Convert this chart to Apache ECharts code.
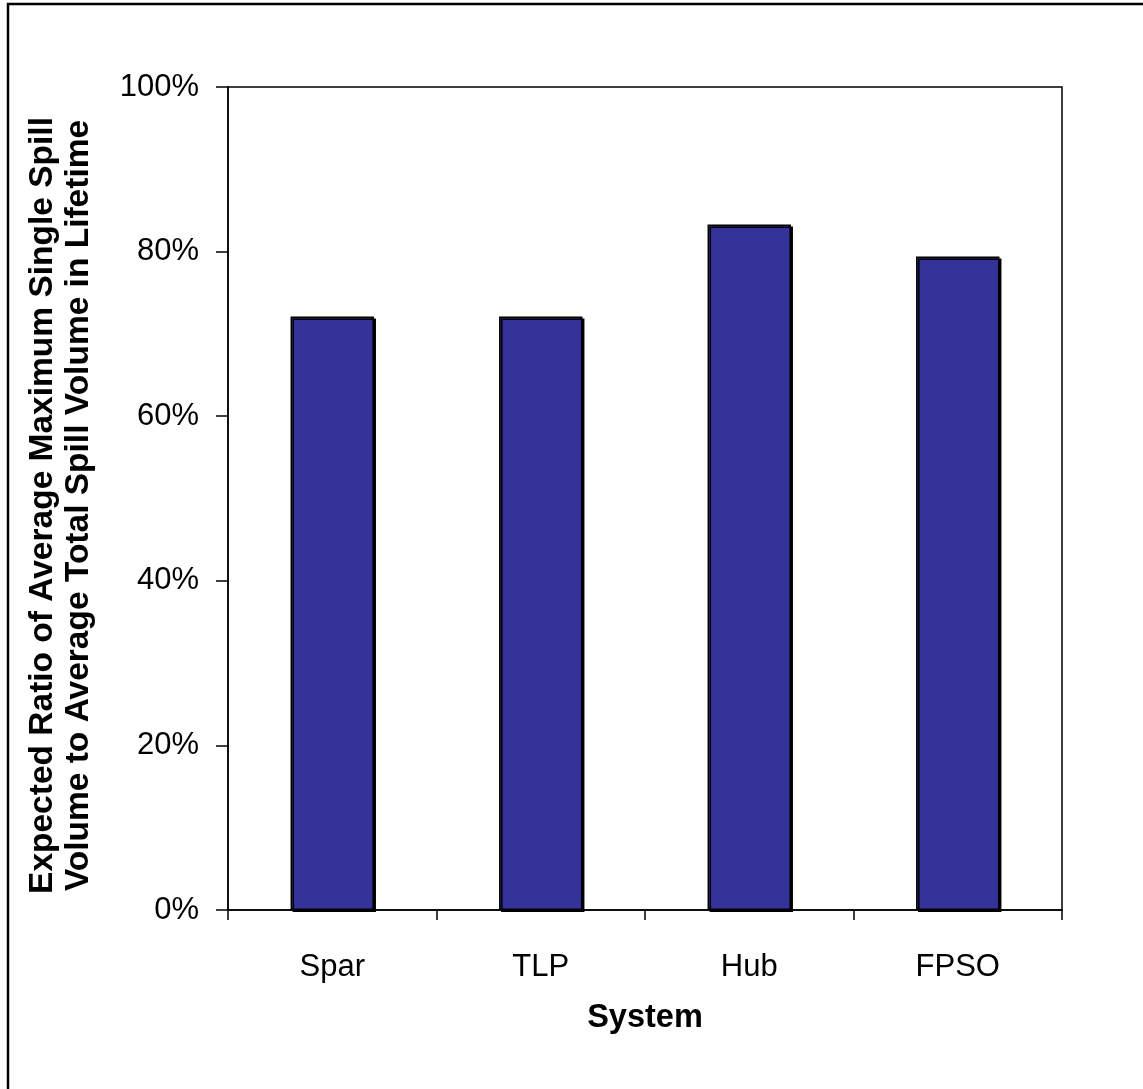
<!DOCTYPE html>
<html>
<head>
<meta charset="utf-8">
<script src="https://cdn.jsdelivr.net/npm/echarts@6/dist/echarts.min.js"></script>
<style>
  html, body { margin: 0; padding: 0; background: #fff; }
  #chart { width: 1143px; height: 1089px; }
</style>
</head>
<body>
<div id="chart"></div>
<script>
// Offshore system types and their expected spill-volume ratios (percent)
const systems = ['Spar', 'TLP', 'Hub', 'FPSO'];
const ratioPercent = [72.1, 72.1, 83.3, 79.4];
const yTicks = [0, 20, 40, 60, 80, 100];

const xTitle = 'System';
const yTitleLines = [
  'Expected Ratio of Average Maximum Single Spill',
  'Volume to Average Total Spill Volume in Lifetime'
];

const FONT = '"Liberation Sans", Arial, sans-serif';

const chart = echarts.init(document.getElementById('chart'), null, { renderer: 'canvas' });

chart.setOption({
  backgroundColor: '#ffffff',
  animation: false,
  graphic: [
    {
      // outer frame around the chart area
      type: 'rect',
      shape: { x: 8, y: 4, width: 1400, height: 1400 },
      style: { fill: 'none', stroke: '#000', lineWidth: 2.5 },
      silent: true
    }
  ],
  grid: {
    left: 228,
    top: 87,
    right: 81,
    bottom: 179,
    show: true,
    borderColor: '#000',
    borderWidth: 1.5,
    backgroundColor: 'transparent'
  },
  xAxis: {
    type: 'category',
    data: systems,
    name: xTitle,
    nameLocation: 'middle',
    nameGap: 92,
    nameTextStyle: { fontFamily: FONT, fontSize: 32.5, fontWeight: 'bold', color: '#000' },
    axisLine: { lineStyle: { color: '#000', width: 1.5 } },
    axisTick: { show: true, length: 10, lineStyle: { color: '#000', width: 1.5 } },
    axisLabel: { fontFamily: FONT, fontSize: 31, color: '#000', margin: 42 },
    splitLine: { show: false }
  },
  yAxis: {
    type: 'value',
    min: 0,
    max: 100,
    interval: 20,
    name: yTitleLines.join('\n'),
    nameLocation: 'middle',
    nameRotate: 90,
    nameGap: 131,
    nameTextStyle: {
      fontFamily: FONT, fontSize: 33.5, fontWeight: 'bold', color: '#000',
      lineHeight: 36, align: 'center', padding: [0, 14, 0, 0]
    },
    axisLine: { show: true, lineStyle: { color: '#000', width: 1.5 } },
    axisTick: { show: true, length: 12, lineStyle: { color: '#000', width: 1.5 } },
    axisLabel: {
      fontFamily: FONT, fontSize: 31, color: '#000', margin: 29,
      formatter: v => (yTicks.includes(v) ? v + '%' : '')
    },
    splitLine: { show: false }
  },
  series: [
    {
      type: 'bar',
      data: ratioPercent,
      barWidth: '40%',
      itemStyle: {
        color: '#333399',
        borderColor: '#000',
        borderWidth: 1.5,
        shadowColor: '#000',
        shadowOffsetX: 2,
        shadowOffsetY: 2,
        shadowBlur: 0
      }
    }
  ]
});
</script>
</body>
</html>
